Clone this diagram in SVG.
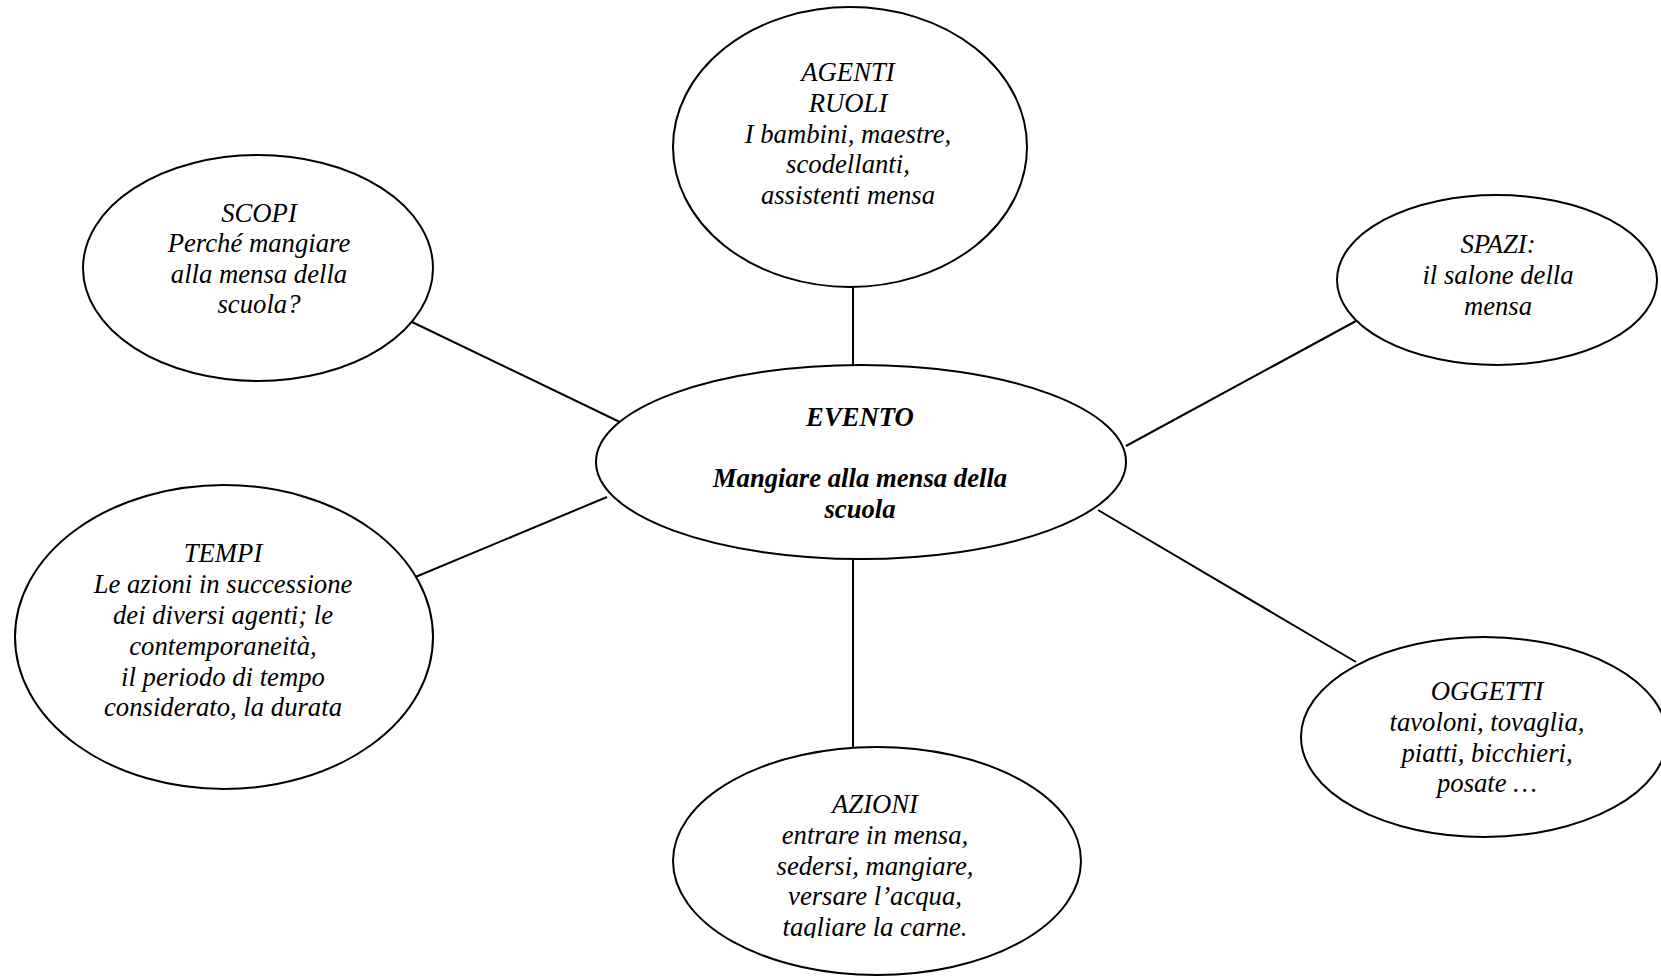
<svg xmlns="http://www.w3.org/2000/svg" width="1661" height="976" viewBox="0 0 1661 976">
<style>
.n{fill:#fff;stroke:#000;stroke-width:2}
.c line{stroke:#000;stroke-width:2}
text{font-family:"Liberation Serif","Times New Roman",serif;font-style:italic;font-size:26.7px;fill:#000;text-anchor:middle}
.b{font-weight:bold}
</style>
<defs>
<clipPath id="clipAz"><rect x="0" y="0" width="1661" height="938"/></clipPath>
</defs>
<rect width="1661" height="976" fill="#fff"/>
<g class="c" id="connectors">
<line x1="853" y1="287" x2="853" y2="366"/>
<line x1="412" y1="322" x2="624" y2="424"/>
<line x1="1356" y1="321" x2="1126" y2="446"/>
<line x1="413" y1="578" x2="607" y2="497"/>
<line x1="853" y1="558" x2="853" y2="747"/>
<line x1="1098" y1="510" x2="1356" y2="662"/>
</g>
<g id="agenti">
<ellipse class="n" cx="850" cy="147" rx="177" ry="140"/>
<text x="848" y="81">AGENTI</text>
<text x="848" y="112">RUOLI</text>
<text x="848" y="143">I bambini, maestre,</text>
<text x="848" y="173">scodellanti,</text>
<text x="848" y="204">assistenti mensa</text>
</g>
<g id="scopi">
<ellipse class="n" cx="258" cy="268" rx="175" ry="113"/>
<text x="259" y="222">SCOPI</text>
<text x="259" y="252">Perché mangiare</text>
<text x="259" y="283">alla mensa della</text>
<text x="259" y="313">scuola?</text>
</g>
<g id="spazi">
<ellipse class="n" cx="1497" cy="280" rx="160" ry="85"/>
<text x="1498" y="253">SPAZI:</text>
<text x="1498" y="284">il salone della</text>
<text x="1498" y="315">mensa</text>
</g>
<g id="evento">
<ellipse class="n" cx="861" cy="462" rx="265" ry="97"/>
<text class="b" x="860" y="426">EVENTO</text>
<text class="b" x="860" y="487">Mangiare alla mensa della</text>
<text class="b" x="860" y="518">scuola</text>
</g>
<g id="tempi">
<ellipse class="n" cx="224" cy="637" rx="209" ry="152"/>
<text x="223" y="562">TEMPI</text>
<text x="223" y="593">Le azioni in successione</text>
<text x="223" y="624">dei diversi agenti; le</text>
<text x="223" y="655">contemporaneità,</text>
<text x="223" y="686">il periodo di tempo</text>
<text x="223" y="716">considerato, la durata</text>
</g>
<g id="oggetti">
<ellipse class="n" cx="1484" cy="737" rx="183" ry="100"/>
<text x="1487" y="700">OGGETTI</text>
<text x="1487" y="731">tavoloni, tovaglia,</text>
<text x="1487" y="762">piatti, bicchieri,</text>
<text x="1487" y="792">posate …</text>
</g>
<g id="azioni">
<ellipse class="n" cx="877" cy="861" rx="204" ry="114"/>
<text x="875" y="813">AZIONI</text>
<text x="875" y="844">entrare in mensa,</text>
<text x="875" y="875">sedersi, mangiare,</text>
<text x="875" y="905">versare l’acqua,</text>
<text x="875" y="936" clip-path="url(#clipAz)">tagliare la carne.</text>
</g>
</svg>
